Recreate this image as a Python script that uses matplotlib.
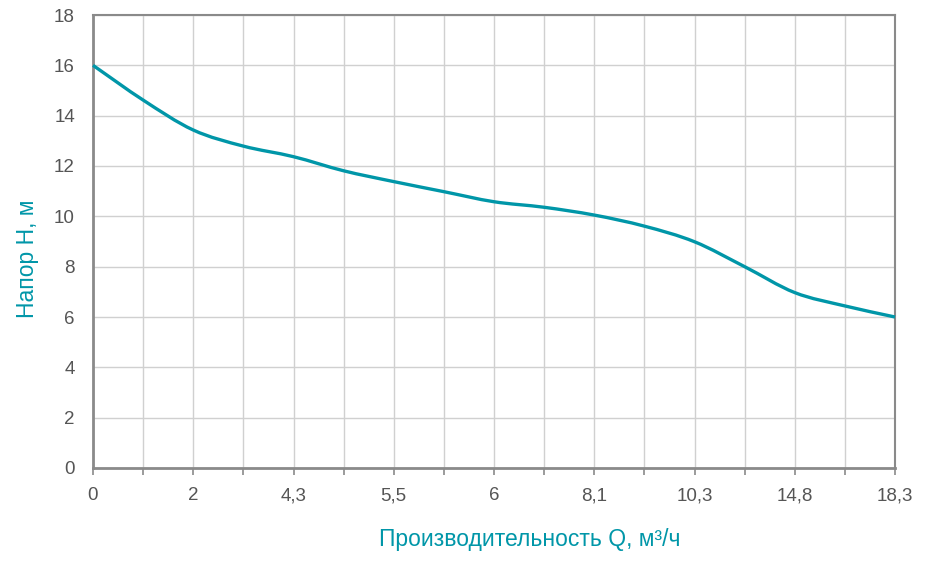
import matplotlib.pyplot as plt
import numpy as np
from matplotlib.path import Path
from matplotlib.patches import PathPatch

# Pump curve: head H vs flow Q (categorical x ticks, as in the source chart)
flow_labels = ['0', '2', '4,3', '5,5', '6', '8,1', '10,3', '14,8', '18,3']
head = [16.0, 14.62, 13.43, 12.79, 12.37, 11.81, 11.38, 10.98, 10.58,
        10.36, 10.05, 9.61, 8.99, 8.0, 6.97, 6.44, 6.0]
y_ticks = [0, 2, 4, 6, 8, 10, 12, 14, 16, 18]

plt.rcParams['font.family'] = ['Liberation Sans', 'DejaVu Sans']

teal = '#0096a8'
grey = '#8a8a8a'

fig = plt.figure(figsize=(9.5, 5.64), dpi=100)
ax = fig.add_axes([93 / 950, 1 - 468 / 564, (895 - 93) / 950, (468 - 15) / 564])

# smooth line through the points: Catmull-Rom segments as cubic Bezier path
x = np.arange(len(head), dtype=float)
y = np.array(head)
px = np.concatenate([[2 * x[0] - x[1]], x, [2 * x[-1] - x[-2]]])
py = np.concatenate([[2 * y[0] - y[1]], y, [2 * y[-1] - y[-2]]])
verts = [(x[0], y[0])]
codes = [Path.MOVETO]
for i in range(1, len(px) - 2):
    c1 = (px[i] + (px[i + 1] - px[i - 1]) / 6, py[i] + (py[i + 1] - py[i - 1]) / 6)
    c2 = (px[i + 1] - (px[i + 2] - px[i]) / 6, py[i + 1] - (py[i + 2] - py[i]) / 6)
    verts += [c1, c2, (px[i + 1], py[i + 1])]
    codes += [Path.CURVE4] * 3
ax.add_patch(PathPatch(Path(verts, codes), facecolor='none', edgecolor=teal,
                       linewidth=2.4, zorder=3, clip_on=False))

ax.set_xlim(0, len(head) - 1)
ax.set_ylim(0, 18)
ax.set_xticks(x)
ax.set_xticklabels([flow_labels[i // 2] if i % 2 == 0 else '' for i in range(len(head))])
ax.set_yticks(y_ticks)
ax.grid(True, color='#d0d0d0', linewidth=1.0)
ax.set_axisbelow(True)

for side in ['top', 'right']:
    ax.spines[side].set_color(grey)
    ax.spines[side].set_linewidth(1.5)
for side in ['left', 'bottom']:
    ax.spines[side].set_color(grey)
    ax.spines[side].set_linewidth(2.0)

ax.tick_params(axis='x', colors=grey, length=5, width=1.2, labelcolor='#555555',
               labelsize=13.5, pad=9)
ax.tick_params(axis='y', length=0, labelcolor='#555555', labelsize=13.5, pad=13)

ax.set_xlabel('Производительность Q, м³/ч', color=teal, fontsize=16.5, va='center')
ax.xaxis.set_label_coords(0.545, -0.157)
ax.set_ylabel('Напор H, м', color=teal, fontsize=16.5, va='center')
ax.yaxis.set_label_coords(-0.082, 0.461)

fig.savefig('out.png', dpi=100)
